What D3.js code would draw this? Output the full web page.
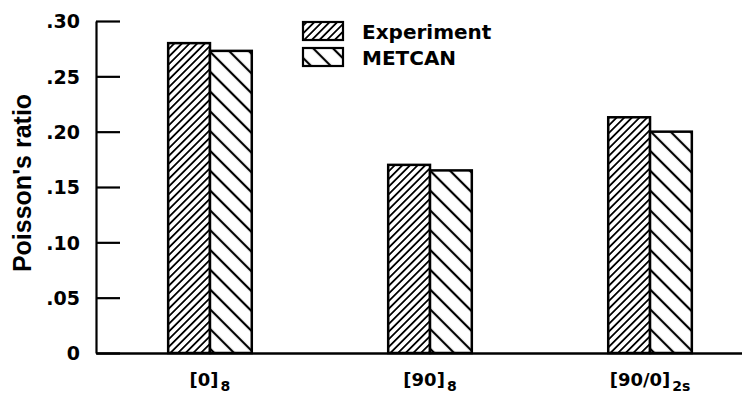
<html lang="en">
<head>
  <meta charset="UTF-8" />
  <title>Poisson's ratio</title>
  <style>
    body, html { margin: 0; padding: 0; background: white; }
    #chart text { fill: black; }
    .tick-label { font: bold 19px "DejaVu Sans", sans-serif; }
    .legend-label { font: bold 20px "DejaVu Sans", sans-serif; }
    .y-label { font: bold 25px "Liberation Sans", Arial, sans-serif; }
    .x-label { font: bold 18px "DejaVu Sans", sans-serif; }
  </style>
</head>
<body>
  <div id="canvas"></div>
  <script src="https://cdn.jsdelivr.net/npm/d3@7/dist/d3.min.js"></script>
  <script>
    // data
    const categories = ["[0]8", "[90]8", "[90/0]2s"];
    const catMain = ["[0]", "[90]", "[90/0]"];
    const catSub = ["8", "8", "2s"];
    const seriesNames = ["Experiment", "METCAN"];
    const experiment = [0.280, 0.170, 0.213];
    const metcan = [0.273, 0.165, 0.200];
    const yTicks = [0, 0.05, 0.10, 0.15, 0.20, 0.25, 0.30];

    const w = 742, h = 400;

    const svg = d3.select("#canvas")
      .append("svg")
      .attr("id", "chart")
      .attr("width", w)
      .attr("height", h);

    // hatch patterns
    const defs = svg.append("defs");
    function hatch(id, size, angle, sw) {
      const p = defs.append("pattern")
        .attr("id", id)
        .attr("patternUnits", "userSpaceOnUse")
        .attr("width", size)
        .attr("height", size)
        .attr("patternTransform", "rotate(" + angle + ")");
      p.append("rect").attr("width", size).attr("height", size).attr("fill", "white");
      p.append("line")
        .attr("x1", size / 2).attr("x2", size / 2)
        .attr("y1", 0).attr("y2", size)
        .attr("stroke", "black")
        .attr("stroke-width", sw);
    }
    hatch("hatch-exp", 5.4, 45, 1.8);
    hatch("hatch-met", 14, -45, 2.2);
    const fills = ["url(#hatch-exp)", "url(#hatch-met)"];

    const x0 = d3.scaleBand()
      .domain(categories)
      .range([96, 764])
      .paddingInner(0.62)
      .paddingOuter(0.328);

    const x1 = d3.scaleBand()
      .domain(seriesNames)
      .range([0, x0.bandwidth()]);

    const y = d3.scaleLinear()
      .domain([0, 0.30])
      .range([353, 21]);

    const rows = categories.map((c, i) => ({
      cat: c,
      values: [
        { name: seriesNames[0], v: experiment[i] },
        { name: seriesNames[1], v: metcan[i] }
      ]
    }));

    // bars
    const groups = svg.append("g").selectAll("g")
      .data(rows)
      .enter()
      .append("g")
      .attr("transform", d => "translate(" + x0(d.cat) + ",0)");

    groups.selectAll("rect")
      .data(d => d.values)
      .enter()
      .append("rect")
      .attr("x", d => x1(d.name))
      .attr("y", d => y(d.v))
      .attr("width", x1.bandwidth())
      .attr("height", d => y(0) - y(d.v))
      .attr("fill", (d, i) => fills[i])
      .attr("stroke", "black")
      .attr("stroke-width", 2.5);

    // y axis, ticks pointing inward
    const yAxis = d3.axisLeft(y)
      .tickValues(yTicks)
      .tickSize(-24)
      .tickSizeOuter(0)
      .tickPadding(16)
      .tickFormat(d => d === 0 ? "0" : d3.format(".2f")(d).replace(/^0/, ""));

    const gy = svg.append("g")
      .attr("transform", "translate(96,0)")
      .call(yAxis);
    gy.selectAll("path, line").attr("stroke", "black").attr("stroke-width", 2.2);
    gy.selectAll("text")
      .attr("class", "tick-label")
      .attr("dy", "0.36em");
    gy.attr("font-size", null).attr("font-family", null);

    // x axis: baseline only, labels with subscripts
    const xAxis = d3.axisBottom(x0).tickSize(0).tickSizeOuter(0).tickFormat("");
    const gx = svg.append("g")
      .attr("transform", "translate(0,353)")
      .call(xAxis);
    gx.select(".domain").attr("stroke", "black").attr("stroke-width", 2.5);

    const xl = svg.append("g").selectAll("text")
      .data(categories)
      .enter()
      .append("text")
      .attr("class", "x-label")
      .attr("text-anchor", "middle")
      .attr("x", d => x0(d) + x0.bandwidth() / 2)
      .attr("y", 386);
    xl.append("tspan").text((d, i) => catMain[i]);
    xl.append("tspan")
      .attr("dy", 5)
      .attr("dx", 2)
      .style("font-size", "14px")
      .text((d, i) => catSub[i]);

    // y label
    svg.append("text")
      .attr("class", "y-label")
      .attr("text-anchor", "middle")
      .attr("transform", "translate(31,183) rotate(-90)")
      .text("Poisson's ratio");

    // legend
    const legend = svg.append("g").attr("transform", "translate(303,22)");
    const li = legend.selectAll("g")
      .data(seriesNames)
      .enter()
      .append("g")
      .attr("transform", (d, i) => "translate(0," + i * 26 + ")");
    li.append("rect")
      .attr("width", 40)
      .attr("height", 18)
      .attr("fill", (d, i) => fills[i])
      .attr("stroke", "black")
      .attr("stroke-width", 2.2);
    li.append("text")
      .attr("class", "legend-label")
      .attr("x", 59)
      .attr("y", 17)
      .text(d => d);
  </script>
</body>
</html>
